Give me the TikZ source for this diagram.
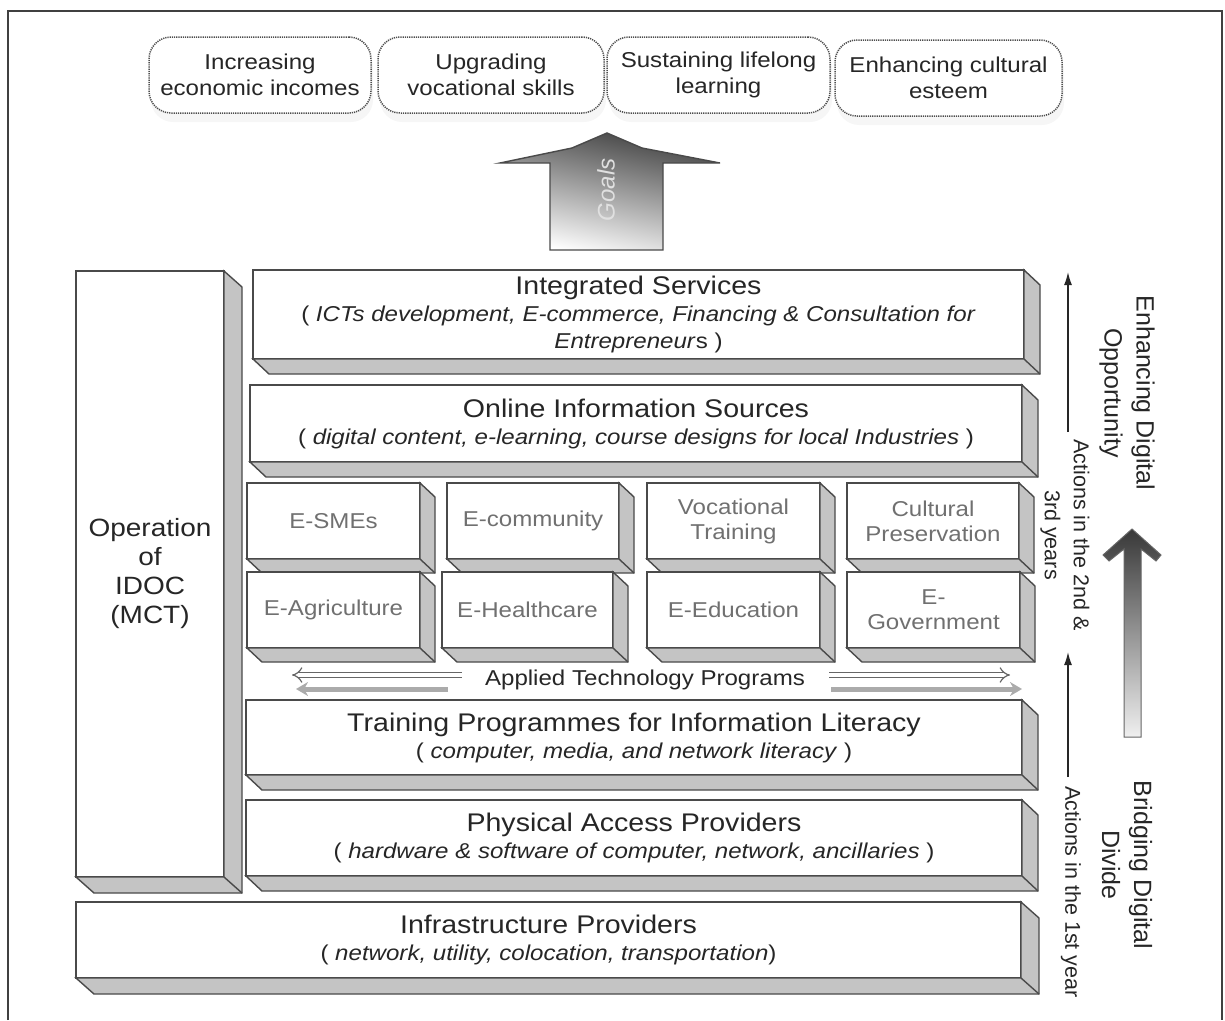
\documentclass[tikz,border=0pt]{standalone}
\usepackage{fontspec}
\setmainfont{Liberation Sans}[FakeStretch=1.12]
\newfontfamily\vfam{Liberation Sans}
\usetikzlibrary{arrows.meta,calc,shadows}

\definecolor{edgec}{HTML}{4A4A4A}
\definecolor{facec}{HTML}{C4C4C4}
\definecolor{txtc}{HTML}{262626}
\definecolor{gridtxt}{HTML}{707070}

% side and bottom faces of an extruded slab
\newcommand\depthfaces[3]{%
  \path[face] (#1.south west) -- ++(#2,#3) -- ($(#1.south east)+(#2,#3)$)
     -- ($(#1.north east)+(#2,#3)$) -- (#1.north east) -- (#1.south east) -- cycle;
  \draw[face] (#1.south east) -- ++(#2,#3);}
\newcommand\ttl{\fontsize{25.5}{27}\selectfont}

\begin{document}
\begin{tikzpicture}[x=1pt,y=-1pt,
  slab/.style={draw=edgec, line width=1.4pt, fill=white, inner sep=0pt, outer sep=0pt,
    align=center, text=txtc, font=\fontsize{21.5}{27}\selectfont},
  cell/.style={slab, minimum width=173, minimum height=76, text=gridtxt,
    font=\fontsize{21.5}{25}\selectfont},
  face/.style={fill=facec, draw=edgec, line width=1.4pt, line join=miter},
  goal/.style={draw=black!70, dash pattern=on 1.2pt off 1pt, line width=1.5pt,
    rounded corners=22pt, fill=white, align=center, inner sep=0pt, outer sep=0pt,
    minimum height=76, text=txtc, font=\fontsize{21.5}{26}\selectfont,
    drop shadow={opacity=0.07, shadow xshift=2pt, shadow yshift=-9pt}},
  side/.style={rotate=-90, align=center, text=txtc, inner sep=0pt},
  thin/.style={draw=black!85, line width=1.5pt, -{Latex[length=13pt,width=8pt]}},
  openarrow/.style={draw=black!60, double=white, double distance=4.2pt, line width=1.2pt,
    -{Implies[length=8pt]}},
  grayarrow/.style={draw=black!33, line width=5pt, -{Stealth[length=12pt,width=14pt]}}]

\useasboundingbox (0,0) rectangle (1225,1020);
\draw[black!75, line width=1.6pt] (8,1020) -- (8,11) -- (1222,11) -- (1222,1020);

% goals
\node[goal, minimum width=222] (g1) at (260,75) {Increasing\\economic incomes};
\node[goal, minimum width=226] (g2) at (491,75) {Upgrading\\vocational skills};
\node[goal, minimum width=223] (g3) at (718.5,75) {Sustaining lifelong\\learning};
\node[goal, minimum width=227] (g4) at (948.5,78) {Enhancing cultural\\esteem};

% goals arrow
\shade[top color=black!75, bottom color=white, shading angle=-12]
  (607,133) -- (642,148) -- (720,163) -- (663,163) -- (663,250) -- (550,250)
  -- (550,163) -- (500,163) -- (572,148) -- cycle;
\draw[edgec, line width=1.4pt, line join=miter]
  (607,133) -- (642,148) -- (720,163) -- (663,163) -- (663,250) -- (550,250)
  -- (550,163) -- (500,163) -- (572,148) -- cycle;
\node[rotate=90, text=black!12, font=\vfam\itshape\fontsize{24}{24}\selectfont] (goalslbl) at (606,190) {Goals};

% left column
\node[slab, minimum width=148, minimum height=606, font=\fontsize{25}{29}\selectfont]
  (op) at (150,574) {Operation\\of\\IDOC\\(MCT)};
\depthfaces{op}{18}{16}

% upper layers
\node[slab, minimum width=771, minimum height=89] (is) at (638.5,314.5)
  {{\ttl Integrated Services}\\(~\textit{ICTs development, E-commerce, Financing \& Consultation for}\\\textit{Entrepreneur}s~)};
\depthfaces{is}{16}{15}

\node[slab, minimum width=772, minimum height=77] (ois) at (636,423.5)
  {{\ttl Online Information Sources}\\(~\textit{digital content, e-learning, course designs for local Industries}~)};
\depthfaces{ois}{16}{15}

% applied programs, first row
\node[cell] (esme) at (333.5,521) {E-SMEs};
\depthfaces{esme}{15}{14}
\node[cell, minimum width=172] (ecom) at (533,521) {E-community};
\depthfaces{ecom}{15}{14}
\node[cell] (voc) at (733.5,521) {Vocational\\Training};
\depthfaces{voc}{15}{14}
\node[cell, minimum width=172] (cult) at (933,521) {Cultural\\Preservation};
\depthfaces{cult}{15}{14}

% applied programs, second row
\node[cell] (eagr) at (333.5,610) {E-Agriculture};
\depthfaces{eagr}{15}{14}
\node[cell, minimum width=171] (eheal) at (527.5,610) {E-Healthcare};
\depthfaces{eheal}{15}{14}
\node[cell] (eedu) at (733.5,610) {E-Education};
\depthfaces{eedu}{15}{14}
\node[cell] (egov) at (933.5,610) {E-\\Government};
\depthfaces{egov}{15}{14}

% applied technology label and arrows
\node[text=txtc, font=\fontsize{21.5}{24}\selectfont, inner sep=0pt] (atp) at (645,680) {Applied Technology Programs};
\coordinate (oLt) at (462,675);  \coordinate (oLh) at (292,675);
\coordinate (oRt) at (829,675);  \coordinate (oRh) at (1010,675);
\coordinate (gLt) at (448,689);  \coordinate (gLh) at (296,689);
\coordinate (gRt) at (831,689);  \coordinate (gRh) at (1022,689);
\draw[grayarrow] (gLt) -- (gLh);
\draw[grayarrow] (gRt) -- (gRh);
\draw[openarrow] (oLt) -- (oLh);
\draw[openarrow] (oRt) -- (oRh);

% lower layers
\node[slab, minimum width=776, minimum height=75] (tp) at (634,737.5)
  {{\ttl Training Programmes for Information Literacy}\\(~\textit{computer, media, and network literacy}~)};
\depthfaces{tp}{16}{15}

\node[slab, minimum width=776, minimum height=76] (pa) at (634,838)
  {{\ttl Physical Access Providers}\\(~\textit{hardware \& software of computer, network, ancillaries}~)};
\depthfaces{pa}{16}{15}

\node[slab, minimum width=945, minimum height=76] (ip) at (548.5,940)
  {{\ttl Infrastructure Providers}\\(~\textit{network, utility, colocation, transportation})};
\depthfaces{ip}{18}{16}

% phases on the right
\coordinate (t2a) at (1068,432); \coordinate (t2b) at (1068,272);
\coordinate (t1a) at (1068,777); \coordinate (t1b) at (1068,652);
\draw[thin] (t2a) -- (t2b);
\draw[thin] (t1a) -- (t1b);
\node[side, font=\vfam\fontsize{21.5}{29}\selectfont] (act2) at (1065,535) {Actions in the 2nd \&\\3rd years};
\node[side, font=\vfam\fontsize{21.5}{27}\selectfont] (act1) at (1071,892) {Actions in the 1st year};
\node[side, font=\vfam\fontsize{25}{32}\selectfont] (edo) at (1127,393) {Enhancing Digital\\Opportunity};
\node[side, font=\vfam\fontsize{25}{32}\selectfont] (bdd) at (1127,865) {Bridging Digital\\Divide};

% progression arrow
\shade[top color=black!78, bottom color=black!6]
  (1132,529) -- (1161,555) -- (1156,561) -- (1141,549) -- (1141,737) -- (1124,737)
  -- (1124,549) -- (1109,561) -- (1103,555) -- cycle;
\draw[black!60, line width=1pt, line join=miter]
  (1132,529) -- (1161,555) -- (1156,561) -- (1141,549) -- (1141,737) -- (1124,737)
  -- (1124,549) -- (1109,561) -- (1103,555) -- cycle;
\end{tikzpicture}
\end{document}
